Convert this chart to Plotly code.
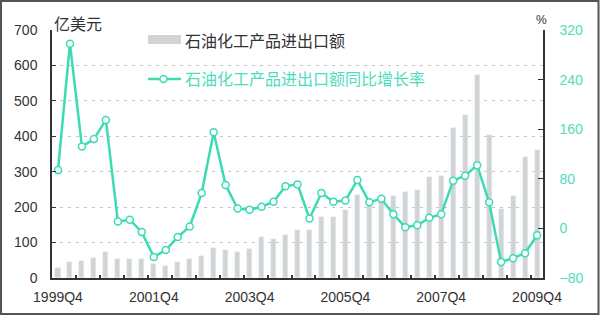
import plotly.graph_objects as go

quarters = ["1999Q4",
            "2000Q1", "2000Q2", "2000Q3", "2000Q4",
            "2001Q1", "2001Q2", "2001Q3", "2001Q4",
            "2002Q1", "2002Q2", "2002Q3", "2002Q4",
            "2003Q1", "2003Q2", "2003Q3", "2003Q4",
            "2004Q1", "2004Q2", "2004Q3", "2004Q4",
            "2005Q1", "2005Q2", "2005Q3", "2005Q4",
            "2006Q1", "2006Q2", "2006Q3", "2006Q4",
            "2007Q1", "2007Q2", "2007Q3", "2007Q4",
            "2008Q1", "2008Q2", "2008Q3", "2008Q4",
            "2009Q1", "2009Q2", "2009Q3", "2009Q4"]

trade_value = [28, 45, 47, 57, 73, 54, 54, 54, 40, 35,
               44, 54, 62, 86, 78, 74, 82, 116, 109, 121,
               136, 136, 171, 171, 191, 235, 212, 214, 232, 242,
               248, 284, 289, 424, 460, 573, 405, 195, 232, 342,
               361]

yoy_growth = [94, 298, 132, 144, 175, 11, 14, -6, -46, -35,
              -14, 3, 57, 155, 70, 32, 30, 35, 43, 68,
              71, 16, 57, 43, 45, 78, 42, 48, 23, 2,
              5, 17, 23, 77, 85, 102, 42, -54, -48, -40,
              -11]

label_quarters = ["1999Q4", "2001Q4", "2003Q4", "2005Q4", "2007Q4", "2009Q4"]

name_bar = "石油化工产品进出口额"
name_line = "石油化工产品进出口额同比增长率"

TEAL = "#3ddbb4"
TEAL_TXT = "#4edcbc"
GRAY = "#d2d4d4"
DARK = "#333333"
CJK = "Noto Sans CJK SC"
LAT = "Liberation Sans"

# plot area in pixels
W, H = 600, 317
L, R, T, B = 52, 543, 30, 278
pw, ph = R - L, B - T


def px(x):
    return (x - L) / pw


def py(y):
    return (B - y) / ph


idx = list(range(len(quarters)))

fig = go.Figure()
fig.add_trace(go.Bar(x=idx, y=trade_value, name=name_bar, marker_color=GRAY,
                     width=0.42, showlegend=False))
fig.add_trace(go.Scatter(x=idx, y=yoy_growth, name=name_line, yaxis="y2",
                         mode="lines+markers",
                         line=dict(color=TEAL, width=2.5),
                         marker=dict(symbol="circle", size=7, color="white",
                                     line=dict(color=TEAL, width=1.5)),
                         showlegend=False))

tickvals = [quarters.index(q) for q in label_quarters]

shapes = [
    # white background behind legend (hides gridlines)
    dict(type="rect", xref="paper", yref="paper", x0=px(122), x1=px(460),
         y0=py(90), y1=py(18), fillcolor="white", line=dict(width=0),
         layer="between"),
    # legend entries
    dict(type="rect", xref="paper", yref="paper", x0=px(148), x1=px(181),
         y0=py(44), y1=py(35), fillcolor=GRAY, line=dict(width=0)),
    dict(type="line", xref="paper", yref="paper", x0=px(148), x1=px(181),
         y0=py(79), y1=py(79), line=dict(color=TEAL, width=2.5)),
    dict(type="circle", xref="paper", yref="paper", x0=px(160), x1=px(167),
         y0=py(82.5), y1=py(75.5), fillcolor="white",
         line=dict(color=TEAL, width=1.5)),
    # outer border
    dict(type="rect", xref="paper", yref="paper", x0=px(1), x1=px(598.5),
         y0=py(314), y1=py(1), line=dict(color="#555555", width=2)),
]

annotations = [
    dict(text=name_bar, xref="paper", yref="paper", x=px(183), y=py(40),
         xanchor="left", yanchor="middle", showarrow=False,
         font=dict(family=CJK, size=16, color=DARK)),
    dict(text=name_line, xref="paper", yref="paper", x=px(183), y=py(78),
         xanchor="left", yanchor="middle", showarrow=False,
         font=dict(family=CJK, size=16, color=TEAL_TXT)),
    dict(text="亿美元", xref="paper", yref="paper", x=px(52), y=py(23),
         xanchor="left", yanchor="middle", showarrow=False,
         font=dict(family=CJK, size=16, color=DARK)),
    dict(text="%", xref="paper", yref="paper", x=px(541), y=py(20),
         xanchor="center", yanchor="middle", showarrow=False,
         font=dict(family=LAT, size=12, color=DARK)),
]

fig.update_layout(
    width=W, height=H,
    margin=dict(l=L, r=W - R, t=T, b=H - B, pad=0),
    paper_bgcolor="white", plot_bgcolor="white",
    showlegend=False,
    bargap=0,
    xaxis=dict(range=[-0.5, len(quarters) - 0.5], tickmode="array",
               tickvals=tickvals, ticktext=label_quarters,
               ticks="", showline=True, linecolor=DARK, linewidth=1.5,
               showgrid=False, zeroline=False, ticklabelstandoff=5,
               tickfont=dict(family=LAT, size=14, color=DARK),
               minor=dict(tickmode="array",
                          tickvals=[i + 0.5 for i in range(1, len(quarters) - 1, 2)],
                          ticks="inside", ticklen=3, tickcolor=DARK, tickwidth=1.5,
                          showgrid=False)),
    yaxis=dict(range=[0, 700], dtick=100, showgrid=True, gridcolor="#c4c4c4",
               griddash="3px,5px", gridwidth=1, showline=True, linecolor=DARK,
               linewidth=1.5, ticks="inside", ticklen=4, tickcolor=DARK,
               zeroline=False, ticklabelstandoff=10,
               tickfont=dict(family=LAT, size=14, color=DARK)),
    yaxis2=dict(range=[-80, 320], dtick=80, overlaying="y", side="right",
                showgrid=False, showline=True, linecolor=DARK, linewidth=1.5,
                ticks="inside", ticklen=5, tickcolor=DARK, zeroline=False,
                ticklabelstandoff=12,
                tickfont=dict(family=LAT, size=14, color=TEAL_TXT)),
    shapes=shapes,
    annotations=annotations,
)

fig.write_html("out.html")
